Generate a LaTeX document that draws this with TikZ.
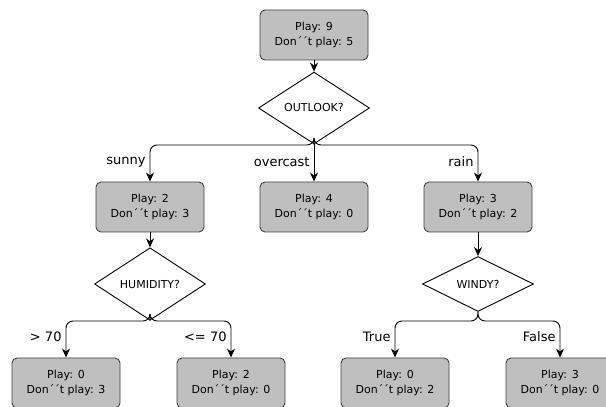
\documentclass[tikz,border=0pt]{standalone}
\usepackage{fontspec}
\setmainfont{DejaVu Sans}
\usetikzlibrary{arrows.meta,shapes.geometric}

\begin{document}
\begin{tikzpicture}
  [
  x=1pt, y=1pt,
  font=\fontsize{11}{15}\selectfont, >={Stealth[length=9pt,width=8pt]}, line width=0.9pt,
  count/.style={rectangle, minimum height=50pt, minimum width=108pt, draw=black!75, fill=black!25, rounded corners=5pt, align=center},
  question/.style={diamond, minimum width=111pt, minimum height=48pt, inner sep=1pt, draw=black, fill=white},
  branch/.style={->, rounded corners=7pt},
  tag/.style={anchor=east, inner sep=2pt, font=\fontsize{13}{15}\selectfont}
  ]

\useasboundingbox (0,0) rectangle (606,407);

\node[count] (root) at (314,372) {Play: 9\\Don´´t play: 5};
\node[question] (outlook) at (314,299) {OUTLOOK?};

\node[count] (sunny) at (150,200) {Play: 2\\Don´´t play: 3};
\node[count] (overcast) at (314,200) {Play: 4\\Don´´t play: 0};
\node[count] (rain) at (478,200) {Play: 3\\Don´´t play: 2};

\node[question] (humidity) at (150,123) {HUMIDITY?};
\node[question] (windy) at (478,123) {WINDY?};

\node[count] (high) at (66,24) {Play: 0\\Don´´t play: 3};
\node[count] (normal) at (231,24) {Play: 2\\Don´´t play: 0};
\node[count] (windtrue) at (395,24) {Play: 0\\Don´´t play: 2};
\node[count] (windfalse) at (560,24) {Play: 3\\Don´´t play: 0};

\coordinate (split1) at (314,262);
\coordinate (split2) at (150,86);
\coordinate (split3) at (478,86);

\draw[->] (root) -- (outlook);

\draw[branch] (outlook.south) -- (split1) -| (sunny.north);
\draw[->] (outlook.south) -- (overcast.north);
\draw[branch] (outlook.south) -- (split1) -| (rain.north);

\draw[->] (sunny) -- (humidity);
\draw[->] (rain) -- (windy);

\draw[branch] (humidity.south) -- (split2) -| (high.north);
\draw[branch] (humidity.south) -- (split2) -| (normal.north);
\draw[branch] (windy.south) -- (split3) -| (windtrue.north);
\draw[branch] (windy.south) -- (split3) -| (windfalse.north);

\node[tag] (tsunny) at (148,245) {sunny};
\node[tag] (tovercast) at (312,245) {overcast};
\node[tag] (train) at (476,245) {rain};
\node[tag] (thigh) at (64,70) {> 70};
\node[tag] (tnormal) at (229,70) {<= 70};
\node[tag] (ttrue) at (393,70) {True};
\node[tag] (tfalse) at (558,70) {False};

\end{tikzpicture}
\end{document}
